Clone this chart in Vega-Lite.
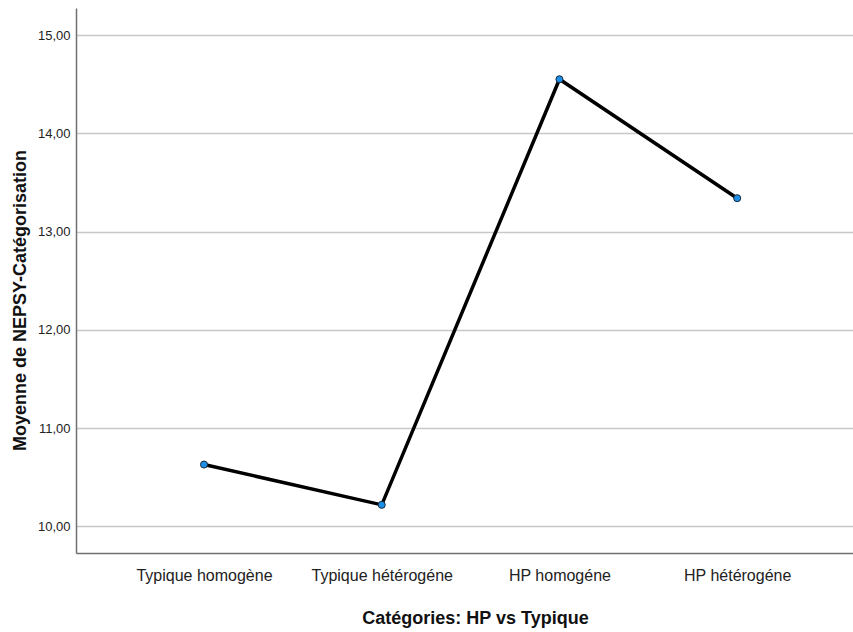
{
  "$schema": "https://vega.github.io/schema/vega-lite/v6.json",
  "width": 777,
  "height": 545,
  "autosize": "none",
  "padding": {"left": 76, "top": 8, "right": 0, "bottom": 79},
  "background": "white",
  "config": {"view": {"stroke": null}, "font": "Liberation Sans"},
  "data": {"values": [
    {"cat": "Typique homogène", "moy": 10.63},
    {"cat": "Typique hétérogéne", "moy": 10.22},
    {"cat": "HP homogéne", "moy": 14.55},
    {"cat": "HP hétérogéne", "moy": 13.34}
  ]},
  "encoding": {
    "x": {"field": "cat", "type": "nominal", "sort": null,
      "scale": {"type": "point", "padding": 0.686, "align": 0.525},
      "axis": {"title": "Catégories: HP vs Typique", "labelAngle": 0, "ticks": false, "labelPadding": 14,
        "labelFontSize": 16, "labelColor": "#222", "titleFontSize": 18, "titleFontWeight": "bold", "titleColor": "#111",
        "titleX": 399, "titleY": 70, "titleBaseline": "alphabetic", "titleAlign": "center",
        "domainColor": "#707070", "domainWidth": 1.5, "grid": false}},
    "y": {"field": "moy", "type": "quantitative",
      "scale": {"domain": [9.73, 15.275], "nice": false, "zero": false},
      "axis": {"title": "Moyenne de NEPSY-Catégorisation", "values": [10, 11, 12, 13, 14, 15],
        "labelExpr": "replace(format(datum.value, '.2f'), '.', ',')", "ticks": false, "labelPadding": 6,
        "labelFontSize": 13, "labelColor": "#222", "titleFontSize": 18, "titleFontWeight": "bold", "titleColor": "#111",
        "titleX": -51, "titleY": 292, "titleBaseline": "alphabetic", "titleAlign": "center", "titleAngle": -90,
        "domainColor": "#707070", "domainWidth": 1.5,
        "grid": true, "gridColor": "#c8c8c8", "gridWidth": 1.5}}
  },
  "layer": [
    {"mark": {"type": "line", "color": "black", "strokeWidth": 3.5}},
    {"mark": {"type": "point", "filled": true, "fill": "#1e8fe6", "stroke": "#1a2a3a", "strokeWidth": 1, "size": 50, "opacity": 1}}
  ]
}
